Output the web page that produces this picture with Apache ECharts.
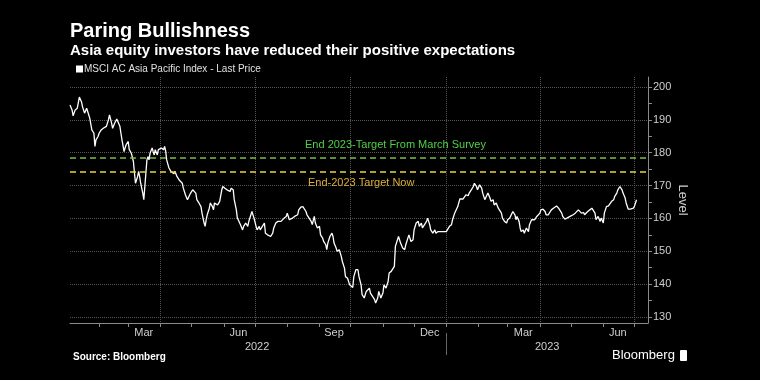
<!DOCTYPE html>
<html><head><meta charset="utf-8">
<script src="https://cdn.jsdelivr.net/npm/echarts@6/dist/echarts.min.js"></script>
<style>html,body{margin:0;padding:0;background:#000;}#c{width:760px;height:380px;}</style>
</head><body><div id="c"></div>
<script>
const dates = ['2022-01-04','2022-01-06','2022-01-07','2022-01-09','2022-01-11','2022-01-13','2022-01-15','2022-01-16','2022-01-18','2022-01-20','2022-01-21','2022-01-22','2022-01-23','2022-01-25','2022-01-27','2022-01-28','2022-01-29','2022-01-31',
'2022-02-01','2022-02-03','2022-02-05','2022-02-06','2022-02-08','2022-02-10','2022-02-11','2022-02-13','2022-02-14','2022-02-16','2022-02-18','2022-02-19','2022-02-21','2022-02-22','2022-02-23','2022-02-25','2022-02-26','2022-02-27',
'2022-03-01','2022-03-02','2022-03-04','2022-03-06','2022-03-07','2022-03-08','2022-03-10','2022-03-11','2022-03-12','2022-03-13','2022-03-15','2022-03-16','2022-03-17','2022-03-18','2022-03-19','2022-03-20','2022-03-21','2022-03-22','2022-03-24','2022-03-25','2022-03-26','2022-03-27','2022-03-29','2022-03-30','2022-03-31',
'2022-04-02','2022-04-04','2022-04-05','2022-04-06','2022-04-07','2022-04-09','2022-04-11','2022-04-12','2022-04-14','2022-04-15','2022-04-17','2022-04-19','2022-04-20','2022-04-22','2022-04-23','2022-04-25','2022-04-27','2022-04-28','2022-04-30',
'2022-05-02','2022-05-03','2022-05-05','2022-05-06','2022-05-08','2022-05-10','2022-05-11','2022-05-13','2022-05-14','2022-05-15','2022-05-16','2022-05-18','2022-05-19','2022-05-21','2022-05-22','2022-05-23','2022-05-26','2022-05-28','2022-05-30','2022-05-31',
'2022-06-02','2022-06-04','2022-06-05','2022-06-07','2022-06-08','2022-06-10','2022-06-11','2022-06-13','2022-06-14','2022-06-15','2022-06-17','2022-06-19','2022-06-20','2022-06-22','2022-06-24','2022-06-25','2022-06-27','2022-06-28','2022-06-30',
'2022-07-02','2022-07-03','2022-07-05','2022-07-06','2022-07-08','2022-07-10','2022-07-11','2022-07-13','2022-07-14','2022-07-16','2022-07-18','2022-07-19','2022-07-21','2022-07-23','2022-07-24','2022-07-26','2022-07-27','2022-07-29','2022-07-31',
'2022-08-01','2022-08-03','2022-08-04','2022-08-06','2022-08-08','2022-08-09','2022-08-11','2022-08-12','2022-08-14','2022-08-16','2022-08-17','2022-08-19','2022-08-20','2022-08-22','2022-08-24','2022-08-25','2022-08-27','2022-08-28','2022-08-30',
'2022-09-01','2022-09-02','2022-09-04','2022-09-05','2022-09-07','2022-09-08','2022-09-09','2022-09-11','2022-09-13','2022-09-14','2022-09-15','2022-09-17','2022-09-18','2022-09-20','2022-09-22','2022-09-23','2022-09-25','2022-09-26','2022-09-28','2022-09-30',
'2022-10-01','2022-10-03','2022-10-04','2022-10-06','2022-10-08','2022-10-09','2022-10-11','2022-10-12','2022-10-14','2022-10-16','2022-10-17','2022-10-19','2022-10-20','2022-10-22','2022-10-24','2022-10-25','2022-10-27','2022-10-28','2022-10-30',
'2022-11-01','2022-11-02','2022-11-04','2022-11-06','2022-11-07','2022-11-09','2022-11-10','2022-11-12','2022-11-13','2022-11-14','2022-11-16','2022-11-17','2022-11-18','2022-11-20','2022-11-22','2022-11-23','2022-11-25','2022-11-26','2022-11-28','2022-11-30',
'2022-12-01','2022-12-03','2022-12-05','2022-12-06','2022-12-08','2022-12-09','2022-12-11','2022-12-13','2022-12-14','2022-12-16','2022-12-17','2022-12-19','2022-12-21','2022-12-22','2022-12-24','2022-12-25','2022-12-27','2022-12-29','2022-12-30',
'2023-01-01','2023-01-02','2023-01-04','2023-01-06','2023-01-07','2023-01-09','2023-01-10','2023-01-12','2023-01-14','2023-01-15','2023-01-17','2023-01-18','2023-01-20','2023-01-22','2023-01-23','2023-01-25','2023-01-27','2023-01-28','2023-01-30','2023-01-31',
'2023-02-02','2023-02-04','2023-02-05','2023-02-07','2023-02-08','2023-02-10','2023-02-12','2023-02-13','2023-02-15','2023-02-16','2023-02-18','2023-02-20','2023-02-21','2023-02-23','2023-02-24','2023-02-26','2023-02-28',
'2023-03-01','2023-03-03','2023-03-04','2023-03-06','2023-03-08','2023-03-09','2023-03-10','2023-03-12','2023-03-13','2023-03-14','2023-03-16','2023-03-17','2023-03-19','2023-03-21','2023-03-22','2023-03-24','2023-03-25','2023-03-27','2023-03-29','2023-03-30',
'2023-04-01','2023-04-02','2023-04-04','2023-04-06','2023-04-07','2023-04-09','2023-04-10','2023-04-12','2023-04-14','2023-04-15','2023-04-17','2023-04-19','2023-04-20','2023-04-22','2023-04-23','2023-04-25','2023-04-27','2023-04-28','2023-04-30',
'2023-05-01','2023-05-03','2023-05-05','2023-05-06','2023-05-08','2023-05-09','2023-05-11','2023-05-13','2023-05-14','2023-05-16','2023-05-17','2023-05-19','2023-05-21','2023-05-22','2023-05-24','2023-05-25','2023-05-27','2023-05-29','2023-05-30',
'2023-06-01','2023-06-02','2023-06-04','2023-06-06','2023-06-07','2023-06-09','2023-06-11','2023-06-12','2023-06-14','2023-06-15','2023-06-17','2023-06-19','2023-06-20','2023-06-22','2023-06-23','2023-06-25','2023-06-27','2023-06-28','2023-06-30',
'2023-07-01','2023-07-03'];
const values = [194.5,193.0,191.2,193.0,193.5,196.9,195.5,194.0,192.0,193.5,194.0,191.5,190.5,186.9,185.9,181.9,183.9,184.9,
185.9,186.9,187.4,187.2,188.0,190.0,191.5,189.0,187.4,189.0,190.2,189.5,188.0,185.9,183.9,180.3,181.4,182.4,
183.4,180.9,179.8,177.3,173.8,170.7,172.7,174.3,172.7,170.7,167.7,165.7,169.7,173.8,177.8,178.8,177.8,179.8,181.4,180.3,179.3,180.9,179.3,180.9,180.3,
181.4,180.9,181.9,180.5,177.8,175.5,174.3,174.8,173.6,174.3,172.7,171.7,172.2,170.7,169.2,167.2,165.7,166.2,167.7,
168.7,168.2,167.7,165.7,164.7,163.6,161.6,158.6,157.6,159.6,161.1,163.1,164.7,163.6,162.6,164.7,164.1,165.2,168.7,169.7,
169.2,168.7,169.2,168.2,169.2,168.7,165.7,162.6,160.1,159.6,158.1,156.5,157.6,158.6,157.6,159.1,161.1,162.1,160.1,
157.6,156.5,157.6,156.5,157.6,158.6,155.5,155.0,154.5,154.5,155.5,157.1,158.6,159.1,159.6,159.1,159.1,160.1,160.6,
161.6,159.6,159.1,160.1,160.6,160.6,161.1,162.6,163.4,163.6,163.1,162.1,161.1,160.1,159.1,158.1,160.6,158.6,157.1,
157.6,155.0,154.0,153.0,152.0,150.5,152.5,154.5,155.5,154.5,152.5,151.0,150.0,150.5,148.4,146.9,144.9,142.3,141.8,139.8,
139.3,139.0,142.3,144.4,144.4,142.3,139.8,136.8,135.8,137.8,137.3,138.8,137.3,136.3,135.3,134.3,135.8,137.8,135.8,
137.3,139.8,138.8,140.8,143.4,143.9,143.4,145.4,151.5,152.0,154.5,153.5,152.5,151.0,150.5,152.0,154.0,155.0,153.0,153.5,
156.5,158.6,159.1,157.6,158.6,157.1,158.1,159.1,160.1,158.1,156.5,155.5,156.5,155.5,156.0,155.5,156.0,156.0,155.5,
156.0,156.5,157.6,158.1,159.6,161.6,161.8,163.6,165.9,166.2,165.9,166.2,167.2,166.9,167.7,168.7,169.7,170.7,169.7,168.7,
170.2,169.2,167.7,165.7,166.2,167.7,166.2,165.2,165.7,164.1,164.7,163.1,162.6,161.6,160.1,159.1,158.6,
159.6,160.1,160.6,162.1,161.1,159.6,160.6,159.1,157.1,156.0,156.5,155.5,157.1,156.0,158.1,159.6,160.1,159.6,160.6,161.1,
161.6,162.6,162.8,162.1,161.1,161.1,161.6,162.6,163.1,163.6,163.8,163.1,162.6,161.6,160.6,159.8,160.1,160.3,160.6,
160.6,161.1,161.6,162.1,162.6,162.1,161.6,161.8,161.1,161.8,161.6,162.6,163.1,162.6,161.6,159.6,160.6,159.1,160.1,
158.6,161.6,163.6,163.8,163.6,165.2,165.7,166.7,167.7,168.7,169.7,168.7,167.7,166.2,164.7,162.8,162.8,163.4,163.1,
163.8,165.7];

const seriesName = 'MSCI AC Asia Pacific Index - Last Price';
const axisStart = '2022-01-04';
const axisEnd = '2023-07-14';
const yMin = 128.2, yMax = 203;
const yTicks = [130,140,150,160,170,180,190,200];
const yMinorTicks = [130,135,140,145,150,155,160,165,170,175,180,185,190,195,200];
const monthTicks = ['2022-02-01','2022-03-01','2022-04-01','2022-05-01','2022-06-01','2022-07-01','2022-08-01','2022-09-01','2022-10-01','2022-11-01','2022-12-01','2023-01-01','2023-02-01','2023-03-01','2023-04-01','2023-05-01','2023-06-01','2023-07-01'];
const quarterLines = ['2022-04-01','2022-07-01','2022-10-01','2023-01-01','2023-04-01','2023-07-01'];
const monthLabelDates = ['2022-03-16','2022-06-15','2022-09-15','2022-12-16','2023-03-16','2023-06-15'];
const monthLabelTexts = ['Mar','Jun','Sep','Dec','Mar','Jun'];
const yearLabelDates = ['2022-07-03','2023-04-08'];
const yearLabelTexts = ['2022','2023'];
const yearBoundaries = ['2023-01-01'];
const targetNames = ['End 2023-Target From March Survey','End-2023 Target Now'];
const targetValues = [178.5, 174.1];

const ts = s => Date.parse(s);
const FONT = '"Liberation Sans", Arial, sans-serif';
const monthMap = {}; monthLabelDates.forEach((d,i)=>monthMap[ts(d)] = monthLabelTexts[i]);
const yearMap = {}; yearLabelDates.forEach((d,i)=>yearMap[ts(d)] = yearLabelTexts[i]);

const chart = echarts.init(document.getElementById('c'), null, {renderer:'canvas'});
const xBase = {type:'value', min: ts(axisStart), max: ts(axisEnd), position:'bottom'};
chart.setOption({
  backgroundColor:'#000',
  animation:false,
  grid:{left:70, right:112, top:77, bottom:57},
  legend:{
    left:71, top:59, itemWidth:7, itemHeight:7, itemGap:0,
    icon:'rect', data:[seriesName],
    textStyle:{color:'#e0e0e0', fontSize:10, fontFamily:FONT, padding:[0,0,0,-4]}
  },
  xAxis:[
    Object.assign({}, xBase, {
      axisLine:{show:true, lineStyle:{color:'#8a8a8a', width:1}},
      axisTick:{show:true, length:4, customValues: monthTicks.map(ts), lineStyle:{color:'#8a8a8a'}},
      axisLabel:{show:true, customValues: monthLabelDates.map(ts), formatter: v => monthMap[v] || '', color:'#cfcfcf', fontSize:11, fontFamily:FONT, margin:4},
      splitLine:{show:false}
    }),
    Object.assign({}, xBase, {
      axisLine:{show:false},
      axisTick:{show:false, customValues: quarterLines.map(ts)},
      axisLabel:{show:false},
      splitLine:{show:true, lineStyle:{color:'#555', type:'dotted', width:1}}
    }),
    Object.assign({}, xBase, {
      offset:10,
      axisLine:{show:false},
      axisTick:{show:true, length:22, customValues: yearBoundaries.map(ts), lineStyle:{color:'#666'}},
      axisLabel:{show:true, customValues: yearLabelDates.map(ts), formatter: v => yearMap[v] || '', color:'#cfcfcf', fontSize:11, fontFamily:FONT, margin:8},
      splitLine:{show:false}
    })
  ],
  yAxis:[
    {
      type:'value', position:'right', min:yMin, max:yMax,
      name:'Level', nameLocation:'middle', nameRotate:-90, nameGap:28, nameMoveOverlap:false,
      nameTextStyle:{color:'#cfcfcf', fontSize:13, fontFamily:FONT},
      axisLine:{show:true, lineStyle:{color:'#8a8a8a', width:1}},
      axisTick:{show:true, length:4, customValues: yTicks, lineStyle:{color:'#8a8a8a'}},
      axisLabel:{show:true, customValues: yTicks, color:'#cfcfcf', fontSize:11, fontFamily:FONT, margin:5},
      splitLine:{show:true, lineStyle:{color:'#555', type:'dotted', width:1}}
    },
    {
      type:'value', position:'right', min:yMin, max:yMax,
      axisLine:{show:false},
      axisTick:{show:true, length:4, customValues: yMinorTicks, lineStyle:{color:'#8a8a8a'}},
      axisLabel:{show:false},
      splitLine:{show:false}
    }
  ],
  series:[{
    name: seriesName, type:'line', xAxisIndex:0, yAxisIndex:0,
    data: dates.map((d,i)=>[ts(d), values[i]]),
    showSymbol:false, symbol:'none',
    lineStyle:{color:'#ffffff', width:1.3},
    itemStyle:{color:'#ffffff'},
    markLine:{
      silent:true, symbol:['none','none'],
      data:[
        {yAxis: targetValues[0], lineStyle:{color:'#7dba4a', type:[6,4], width:1.6},
         label:{show:true, formatter: targetNames[0], position:'insideStartTop', distance:[235,7], color:'#4fcf4a', fontSize:11, fontFamily:FONT}},
        {yAxis: targetValues[1], lineStyle:{color:'#e6d83a', type:[6,4], width:1.6},
         label:{show:true, formatter: targetNames[1], position:'insideStartBottom', distance:[238,5], color:'#dcb13a', fontSize:11, fontFamily:FONT}}
      ]
    }
  }],
  graphic:[
    {type:'text', left:70, top:21, style:{text:'Paring Bullishness', fill:'#ffffff', font:'bold 20px "Liberation Sans", Arial, sans-serif'}},
    {type:'text', left:70, top:43, style:{text:'Asia equity investors have reduced their positive expectations', fill:'#ffffff', font:'bold 15px "Liberation Sans", Arial, sans-serif'}},
    {type:'text', left:73, top:352, style:{text:'Source: Bloomberg', fill:'#ffffff', font:'bold 10px "Liberation Sans", Arial, sans-serif'}},
    {type:'text', left:612, top:349, style:{text:'Bloomberg', fill:'#ffffff', font:'13px ' + FONT}},
    {type:'rect', left:680, top:350, shape:{width:7, height:11, r:1}, style:{fill:'#ffffff'}}
  ]
});
</script></body></html>
